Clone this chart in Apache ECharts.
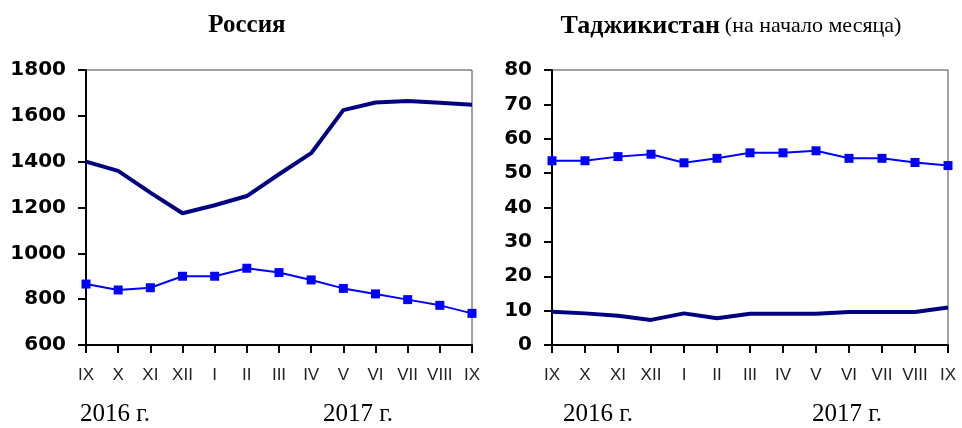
<!DOCTYPE html>
<html>
<head>
<meta charset="utf-8">
<script src="https://cdn.jsdelivr.net/npm/echarts@6/dist/echarts.min.js"></script>
<style>
  html, body { margin: 0; padding: 0; background: #fff; }
  #chart { width: 962px; height: 428px; }
</style>
</head>
<body>
<div id="chart"></div>
<script>
const months = ['IX', 'X', 'XI', 'XII', 'I', 'II', 'III', 'IV', 'V', 'VI', 'VII', 'VIII', 'IX']
const yearLabels = ['2016 г.', '2017 г.']

// Россия
const ruDark = [1400, 1360, 1265, 1175, 1210, 1250, 1345, 1437, 1625, 1658, 1665, 1657, 1648]
const ruBlue = [866, 840, 850, 900, 900, 935, 916, 884, 847, 823, 798, 773, 738]
const ruTicks = { min: 600, max: 1800, interval: 200 }

// Таджикистан
const tjBlue = [53.6, 53.6, 54.8, 55.5, 53.0, 54.3, 55.9, 55.9, 56.5, 54.3, 54.3, 53.1, 52.2]
const tjDark = [9.7, 9.2, 8.5, 7.3, 9.2, 7.8, 9.1, 9.1, 9.1, 9.6, 9.6, 9.6, 10.9]
const tjTicks = { min: 0, max: 80, interval: 10 }

const navy = '#000080'
const blue = '#0000ff'

function xAxis(gridIndex) {
  return {
    type: 'category', gridIndex, data: months, boundaryGap: false,
    axisLine: { lineStyle: { color: '#000', width: 2 } },
    axisTick: { show: true, length: 8, alignWithLabel: true, lineStyle: { color: '#000', width: 2 } },
    axisLabel: { margin: 22, color: '#222', fontFamily: 'Liberation Sans', fontSize: 17, interval: 0 },
    splitLine: { show: false }
  }
}

function yAxis(gridIndex, t) {
  return {
    type: 'value', gridIndex, min: t.min, max: t.max, interval: t.interval,
    axisLine: { show: true, lineStyle: { color: '#000', width: 2 } },
    axisTick: { show: true, length: 8, lineStyle: { color: '#000', width: 2 } },
    axisLabel: { margin: 20, color: '#000', fontFamily: 'DejaVu Sans', fontWeight: 'bold', fontSize: 20,
      formatter: v => String(v) },
    splitLine: { show: false }
  }
}

function darkSeries(i, data) {
  return { type: 'line', xAxisIndex: i, yAxisIndex: i, data, symbol: 'none',
    lineStyle: { color: navy, width: 4 }, z: 3 }
}

function blueSeries(i, data) {
  return { type: 'line', xAxisIndex: i, yAxisIndex: i, data, symbol: 'rect', symbolSize: 9,
    itemStyle: { color: blue }, lineStyle: { color: blue, width: 2 }, z: 4 }
}

const chart = echarts.init(document.getElementById('chart'))
chart.setOption({
  animation: false,
  title: [
    { text: 'Россия', left: 242, top: 8, textAlign: 'center',
      textStyle: { fontFamily: 'Liberation Serif', fontWeight: 'bold', fontSize: 25, color: '#000' } },
    { text: '{b|Таджикистан} {n|(на начало месяца)}', left: 726, top: 8, textAlign: 'center',
      textStyle: { rich: {
        b: { fontFamily: 'Liberation Serif', fontWeight: 'bold', fontSize: 26, color: '#000' },
        n: { fontFamily: 'Liberation Serif', fontWeight: 'normal', fontSize: 22, color: '#000' }
      } } }
  ],
  grid: [
    { left: 86, top: 70, width: 386, height: 275, show: true, borderColor: '#444', borderWidth: 1, backgroundColor: 'transparent' },
    { left: 552, top: 70, width: 396, height: 275, show: true, borderColor: '#444', borderWidth: 1, backgroundColor: 'transparent' }
  ],
  xAxis: [xAxis(0), xAxis(1)],
  yAxis: [yAxis(0, ruTicks), yAxis(1, tjTicks)],
  series: [
    darkSeries(0, ruDark), blueSeries(0, ruBlue),
    blueSeries(1, tjBlue), darkSeries(1, tjDark)
  ],
  graphic: [
    { type: 'text', left: 80, top: 402, style: { text: yearLabels[0], font: '25px "Liberation Serif"', fill: '#000' } },
    { type: 'text', left: 323, top: 402, style: { text: yearLabels[1], font: '25px "Liberation Serif"', fill: '#000' } },
    { type: 'text', left: 563, top: 402, style: { text: yearLabels[0], font: '25px "Liberation Serif"', fill: '#000' } },
    { type: 'text', left: 812, top: 402, style: { text: yearLabels[1], font: '25px "Liberation Serif"', fill: '#000' } }
  ]
})
</script>
</body>
</html>
